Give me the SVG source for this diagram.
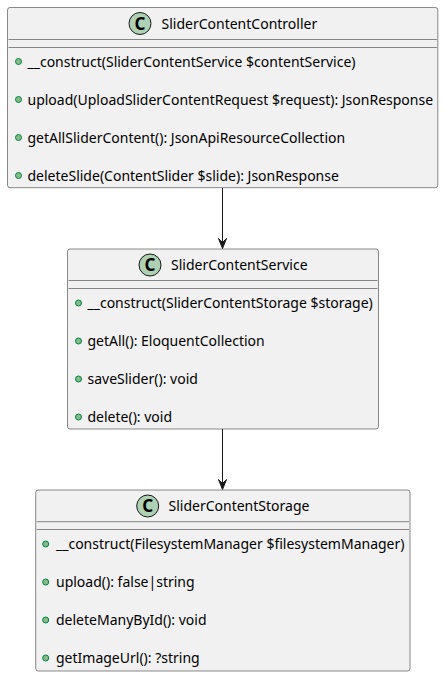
<svg xmlns="http://www.w3.org/2000/svg" width="444" height="677" viewBox="0 0 444 677">
<defs>
<style>
.box{fill:#F1F1F1;stroke:#181818;stroke-width:0.5;}
.sep{stroke:#181818;stroke-width:0.5;}
.ci{fill:#ADD1B2;stroke:#181818;stroke-width:1;}
.cl{font-family:"Noto Sans",sans-serif;font-size:17px;font-weight:bold;fill:#000000;}
.t{font-family:"Noto Sans",sans-serif;font-size:14px;fill:#000000;}
.b{fill:#84BE84;stroke:#038048;stroke-width:1;}
.e{stroke:#181818;stroke-width:1;fill:none;}
.ah{fill:#181818;stroke:#181818;stroke-width:1;}
</style>
</defs>
<rect width="444" height="677" fill="#FFFFFF"/>
<g id="SliderContentController">
<rect class="box" x="7.5" y="7.5" width="430.3" height="180.2" rx="2.5" ry="2.5"/>
<circle class="ci" cx="140" cy="23.5" r="11"/>
<text class="cl" x="140" y="29.5" text-anchor="middle">C</text>
<text class="t" x="161.5" y="28.5">SliderContentController</text>
<line class="sep" x1="8.5" y1="39.5" x2="436.8" y2="39.5"/>
<line class="sep" x1="8.5" y1="47.5" x2="436.8" y2="47.5"/>
<circle class="b" cx="18.5" cy="61.5" r="3"/>
<text class="t" x="27.5" y="66.5">__construct(SliderContentService $contentService)</text>
<circle class="b" cx="18.5" cy="99.5" r="3"/>
<text class="t" x="27.5" y="104.5">upload(UploadSliderContentRequest $request): JsonResponse</text>
<circle class="b" cx="18.5" cy="137.5" r="3"/>
<text class="t" x="27.5" y="142.5">getAllSliderContent(): JsonApiResourceCollection</text>
<circle class="b" cx="18.5" cy="175.5" r="3"/>
<text class="t" x="27.5" y="180.5">deleteSlide(ContentSlider $slide): JsonResponse</text>
</g>
<g id="SliderContentService">
<rect class="box" x="67.5" y="249" width="311" height="180" rx="2.5" ry="2.5"/>
<circle class="ci" cx="150" cy="265" r="11"/>
<text class="cl" x="150" y="271" text-anchor="middle">C</text>
<text class="t" x="171" y="270">SliderContentService</text>
<line class="sep" x1="68.5" y1="280.5" x2="377.5" y2="280.5"/>
<line class="sep" x1="68.5" y1="288.5" x2="377.5" y2="288.5"/>
<circle class="b" cx="78.5" cy="303" r="3"/>
<text class="t" x="87.5" y="308">__construct(SliderContentStorage $storage)</text>
<circle class="b" cx="78.5" cy="341" r="3"/>
<text class="t" x="87.5" y="346">getAll(): EloquentCollection</text>
<circle class="b" cx="78.5" cy="379" r="3"/>
<text class="t" x="87.5" y="384">saveSlider(): void</text>
<circle class="b" cx="78.5" cy="417" r="3"/>
<text class="t" x="87.5" y="422">delete(): void</text>
</g>
<g id="SliderContentStorage">
<rect class="box" x="35.7" y="490" width="374.3" height="181" rx="2.5" ry="2.5"/>
<circle class="ci" cx="147.7" cy="506" r="11"/>
<text class="cl" x="147.7" y="512" text-anchor="middle">C</text>
<text class="t" x="168.5" y="511">SliderContentStorage</text>
<line class="sep" x1="36.7" y1="521.7" x2="409" y2="521.7"/>
<line class="sep" x1="36.7" y1="529.5" x2="409" y2="529.5"/>
<circle class="b" cx="45.7" cy="544" r="3"/>
<text class="t" x="56" y="549">__construct(FilesystemManager $filesystemManager)</text>
<circle class="b" cx="45.7" cy="582" r="3"/>
<text class="t" x="56" y="587">upload(): false|string</text>
<circle class="b" cx="45.7" cy="620" r="3"/>
<text class="t" x="56" y="625">deleteManyById(): void</text>
<circle class="b" cx="45.7" cy="658" r="3"/>
<text class="t" x="56" y="663">getImageUrl(): ?string</text>
</g>
<g id="connectors">
<path class="e" d="M222.5,188 L222.5,243"/>
<polygon class="ah" points="218.5,238.5 222.5,248.5 226.5,238.5 222.5,242.5"/>
<path class="e" d="M222.5,429 L222.5,484"/>
<polygon class="ah" points="218.5,479.5 222.5,489.5 226.5,479.5 222.5,483.5"/>
</g>
</svg>
